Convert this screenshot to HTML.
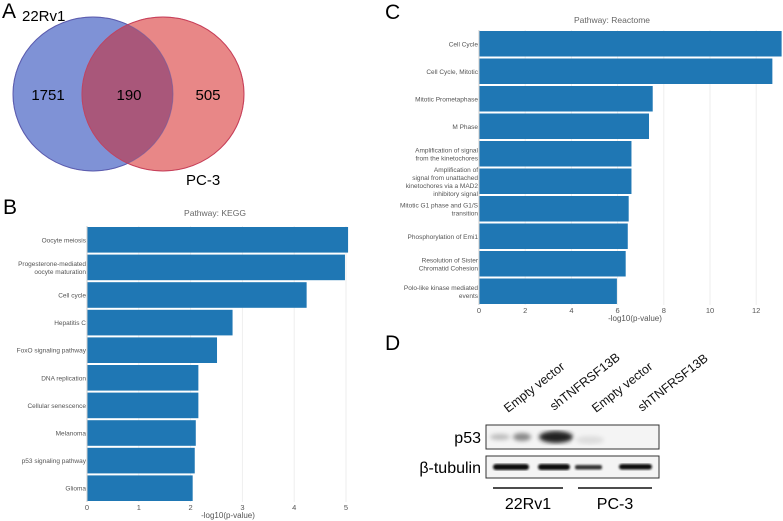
<!DOCTYPE html>
<html><head><meta charset="utf-8"><style>
body{margin:0;background:#fff;}
svg{display:block;font-family:"Liberation Sans",sans-serif;}
.tk{font-size:7.5px;fill:#555;}
.cat{font-size:6.5px;fill:#555;}
</style></head><body>
<svg id="fig" width="783" height="521" viewBox="0 0 783 521">
<defs>
<clipPath id="cpb"><ellipse cx="93" cy="94" rx="80" ry="77"/></clipPath>
<filter id="bl"><feGaussianBlur stdDeviation="2"/></filter><filter id="bl1"><feGaussianBlur stdDeviation="1"/></filter>
</defs>
<g>
<text x="2" y="18" font-size="21">A</text>
<ellipse cx="93" cy="94" rx="80" ry="77" fill="#7f92d6" stroke="#4a5fc0"/>
<ellipse cx="163" cy="94" rx="81" ry="77" fill="#e88787" stroke="#d04050"/>
<ellipse cx="163" cy="94" rx="81" ry="77" fill="#a9577a" clip-path="url(#cpb)"/>
<ellipse cx="93" cy="94" rx="80" ry="77" fill="none" stroke="#6a5aa0" stroke-opacity="0.6"/>
<ellipse cx="163" cy="94" rx="81" ry="77" fill="none" stroke="#c04060" stroke-opacity="0.6"/>
<text x="22" y="21" font-size="15">22Rv1</text>
<text x="48" y="100" font-size="15" text-anchor="middle">1751</text>
<text x="129" y="100" font-size="15" text-anchor="middle">190</text>
<text x="208" y="100" font-size="15" text-anchor="middle">505</text>
<text x="186" y="185" font-size="15">PC-3</text>
</g>
<text x="3" y="214" font-size="21">B</text>
<text x="385" y="19" font-size="21">C</text>
<text x="385" y="350" font-size="21">D</text>
<g id="chartB"></g>
<g id="chartC"></g>
<g>
<g font-size="12.5" fill="#111">
<text transform="translate(508,413) rotate(-38)">Empty vector</text>
<text transform="translate(554,411) rotate(-38)">shTNFRSF13B</text>
<text transform="translate(596,413) rotate(-38)">Empty vector</text>
<text transform="translate(642,412) rotate(-38)">shTNFRSF13B</text>
</g>
<text x="481" y="443" font-size="16" text-anchor="end">p53</text>
<text x="481" y="473" font-size="16" text-anchor="end">β-tubulin</text>
<rect x="486" y="425" width="173" height="24" fill="#f4f4f4" stroke="#333"/>
<g filter="url(#bl)">
<ellipse cx="500" cy="437" rx="10" ry="3" fill="#bbb"/>
<ellipse cx="522" cy="437" rx="9" ry="4" fill="#888"/>
<ellipse cx="556" cy="437" rx="17" ry="6" fill="#222"/>
<ellipse cx="590" cy="440" rx="14" ry="4" fill="#ddd"/>
</g>
<rect x="486" y="456" width="173" height="22" fill="#f4f4f4" stroke="#333"/>
<g filter="url(#bl1)" fill="#111">
<rect x="493" y="464" width="36" height="6" rx="3"/>
<rect x="538" y="464" width="32" height="6" rx="3"/>
<rect x="575" y="465" width="27" height="4.5" rx="2" fill="#333"/>
<rect x="619" y="464" width="33" height="5.5" rx="3"/>
</g>
<line x1="493" y1="488" x2="563" y2="488" stroke="#111" stroke-width="1.5"/>
<line x1="578" y1="488" x2="652" y2="488" stroke="#111" stroke-width="1.5"/>
<text x="528" y="509" font-size="16" text-anchor="middle">22Rv1</text>
<text x="615" y="509" font-size="16" text-anchor="middle">PC-3</text>
</g>
</svg>
<script>
const keggCats=["Oocyte meiosis","Progesterone-mediated|oocyte maturation","Cell cycle","Hepatitis C","FoxO signaling pathway","DNA replication","Cellular senescence","Melanoma","p53 signaling pathway","Glioma"];
const keggVals=[5.04,4.98,4.24,2.81,2.51,2.15,2.15,2.1,2.08,2.04];
const keggTicks=[0,1,2,3,4,5];
const reactCats=["Cell Cycle","Cell Cycle, Mitotic","Mitotic Prometaphase","M Phase","Amplification of signal|from the kinetochores","Amplification of|signal from unattached|kinetochores via a MAD2|inhibitory signal","Mitotic G1 phase and G1/S|transition","Phosphorylation of Emi1","Resolution of Sister|Chromatid Cohesion","Polo-like kinase mediated|events"];
const reactVals=[13.1,12.7,7.52,7.36,6.6,6.6,6.48,6.44,6.35,5.97];
const reactTicks=[0,2,4,6,8,10,12];
const NS="http://www.w3.org/2000/svg";
function mk(p,t,a){const e=document.createElementNS(NS,t);for(const k in a)e.setAttribute(k,a[k]);p.appendChild(e);return e;}
function chart(g,cats,vals,ticks,o){
  const x=v=>o.x0+v*o.sc;
  const step=(o.yb-o.yt)/cats.length;
  const t=mk(g,'text',{x:o.tx,y:o.ty,'text-anchor':'middle','font-size':8.5,fill:'#666'});t.textContent=o.title;
  
  
  ticks.forEach(v=>{
    const l=mk(g,'line',{x1:x(v),x2:x(v),y1:o.yt,y2:o.yb,stroke:'#eee'});
    
    
    const tt=mk(g,'text',{x:x(v),y:o.yb+8,'text-anchor':'middle',class:'tk'});tt.textContent=v;
    
    
  });
  cats.forEach((c,i)=>{
    const y0=o.yt+i*step;
    const r=mk(g,'rect',{x:x(0),y:y0+1,width:x(vals[i])-x(0),height:step-2,fill:'#1f77b4'});
    
    
    const lines=c.split('|');
    const lt=mk(g,'text',{x:x(0)-1,'text-anchor':'end',class:'cat'});
    
    
    lines.forEach((s,j)=>{const ts=mk(lt,'tspan',{x:x(0)-1,y:y0+step/2+2.5+(j-(lines.length-1)/2)*8});ts.textContent=s;});
  });
  mk(g,'line',{x1:x(0),x2:x(0),y1:o.yt,y2:o.yb,stroke:'#ccc'});
  const at=mk(g,'text',{x:o.ax,y:o.yb+16,'text-anchor':'middle','font-size':8,fill:'#555'});at.textContent='-log10(p-value)';
  
  
}
chart(document.getElementById('chartB'),keggCats,keggVals,keggTicks,{x0:87,sc:51.8,yt:226,yb:502,tx:215,ty:216,title:'Pathway: KEGG',ax:228});
chart(document.getElementById('chartC'),reactCats,reactVals,reactTicks,{x0:479,sc:23.1,yt:30,yb:305,tx:612,ty:23,title:'Pathway: Reactome',ax:635});
</script>
</body></html>
